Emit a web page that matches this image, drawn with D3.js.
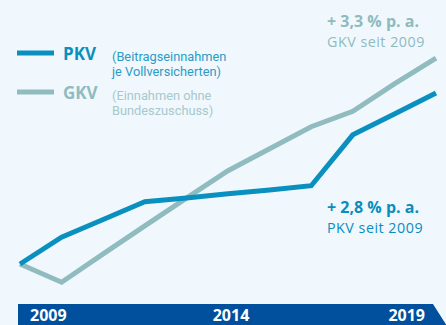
<!DOCTYPE html>
<html>
<head>
<meta charset="utf-8">
<script src="https://cdn.jsdelivr.net/npm/d3@7"></script>
<style>
  html, body { margin: 0; padding: 0; background: #f0f8fe; }
  svg { display: block; font-family: "Open Sans", sans-serif; }
</style>
</head>
<body>
<svg id="chart" width="446" height="325"></svg>
<script>
// Index values, 2009 = 100
const years = [2009, 2010, 2011, 2012, 2013, 2014, 2015, 2016, 2017, 2018, 2019];
const pkvValues = [100, 105.0, 108.3, 111.6, 112.3, 113.1, 113.8, 114.6, 124.1, 128.0, 131.9];
const gkvValues = [100, 96.6, 101.9, 107.1, 112.3, 117.4, 121.5, 125.6, 128.5, 133.6, 138.4];
const axisYears = [2009, 2014, 2019];

const colors = { pkv: "#0a90bf", gkv: "#90bbbf", banner: "#00509d", bg: "#f0f8fe" };

const svg = d3.select("#chart");
svg.append("rect").attr("width", 446).attr("height", 325).attr("fill", colors.bg);

const x = d3.scaleLinear().domain([2009, 2019]).range([20, 436]);
const y = d3.scaleLinear().domain([100, 131.9]).range([264, 93]);

const line = d3.line().x(d => x(d[0])).y(d => y(d[1]));

// GKV first, PKV on top
[["gkv", gkvValues], ["pkv", pkvValues]].forEach(([key, vals]) => {
  svg.append("path")
    .datum(years.map((yr, i) => [yr, vals[i]]))
    .attr("d", line)
    .attr("fill", "none")
    .attr("stroke", colors[key])
    .attr("stroke-width", 5)
    .attr("stroke-linejoin", "miter");
});

// Legend
const legend = [
  { key: "pkv", name: "PKV", note: ["(Beitragseinnahmen", "je Vollversicherten)"], y: 53, noteColor: "#2a9cc6" },
  { key: "gkv", name: "GKV", note: ["(Einnahmen ohne", "Bundeszuschuss)"], y: 92, noteColor: "#a6c9cc" }
];
legend.forEach(l => {
  svg.append("line")
    .attr("x1", 17).attr("x2", 54).attr("y1", l.y).attr("y2", l.y)
    .attr("stroke", colors[l.key]).attr("stroke-width", 5);
  svg.append("text")
    .attr("x", 63).attr("y", l.y + 7)
    .attr("font-size", 17).attr("font-weight", 700)
    .attr("fill", colors[l.key]).text(l.name);
  l.note.forEach((t, i) => {
    svg.append("text")
      .attr("x", 112).attr("y", l.y + 7.5 + i * 15)
      .attr("font-family", "Roboto, sans-serif")
      .attr("font-size", 12.8)
      .attr("fill", l.noteColor).text(t);
  });
});

// Growth annotations
const notes = [
  { key: "gkv", big: "+ 3,3 % p. a.", small: "GKV seit 2009", y: 27, color: "#8fbabe" },
  { key: "pkv", big: "+ 2,8 % p. a.", small: "PKV seit 2009", y: 213, color: "#0a8dbd" }
];
notes.forEach(n => {
  svg.append("text")
    .attr("x", 327).attr("y", n.y)
    .attr("font-size", 16).attr("font-weight", 700)
    .attr("fill", n.color).text(n.big);
  svg.append("text")
    .attr("x", 327).attr("y", n.y + 19.5)
    .attr("font-size", 14.3).attr("letter-spacing", 0.5)
    .attr("fill", n.color).text(n.small);
});

// Time banner with arrow head
svg.append("path")
  .attr("d", "M18,304 L433,304 L447,326 L433,348 L18,348 Z")
  .attr("fill", colors.banner);

svg.selectAll("text.year")
  .data(axisYears)
  .join("text")
  .attr("class", "year")
  .attr("x", (d, i) => i === 0 ? x(d) + 10 : i === axisYears.length - 1 ? x(d) - 11 : x(d) + 3)
  .attr("y", 320.5)
  .attr("text-anchor", (d, i) => i === 0 ? "start" : i === axisYears.length - 1 ? "end" : "middle")
  .attr("font-size", 16).attr("font-weight", 700)
  .attr("fill", "#ffffff")
  .text(d => d);
</script>
</body>
</html>
